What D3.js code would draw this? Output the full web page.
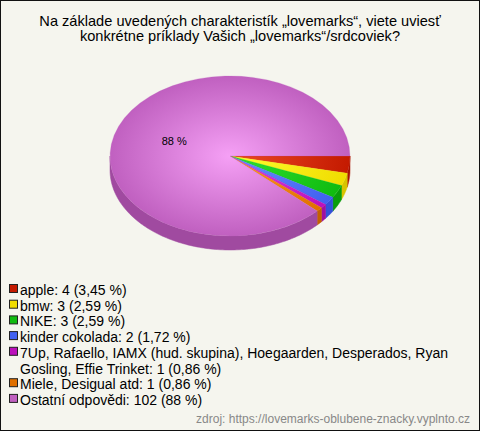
<!DOCTYPE html>
<html><head><meta charset="utf-8">
<script src="https://cdn.jsdelivr.net/npm/d3@7"></script>
<style>html,body{margin:0;padding:0;background:#fff}svg{display:block}</style>
</head><body>
<script>
const titleLines = ["Na základe uvedených charakteristík „lovemarks“, viete uviesť", "konkrétne príklady Vašich „lovemarks“/srdcoviek?"];
const categories = ["apple", "bmw", "NIKE", "kinder cokolada", "7Up, Rafaello, IAMX (hud. skupina), Hoegaarden, Desperados, Ryan Gosling, Effie Trinket", "Miele, Desigual atd", "Ostatní odpovědi"];
const counts = [4, 3, 3, 2, 1, 1, 102];
const percentLabels = ["3,45 %", "2,59 %", "2,59 %", "1,72 %", "0,86 %", "0,86 %", "88 %"];
const topLight = ["#ec4a26", "#ffff30", "#30e030", "#6e8cff", "#e040e0", "#ff9a20", "#f5a0f5"];
const topDark  = ["#c41a00", "#f0dc00", "#10bb10", "#4060f0", "#bb10bb", "#e07000", "#c060c0"];
const sideCol  = ["#a81200", "#d8c400", "#0a9e0a", "#3450d8", "#a010a0", "#c46000", "#a04aa0"];
const footer = "zdroj: https://lovemarks-oblubene-znacky.vyplnto.cz";

const W = 480, H = 431;
const cx = 230, cy = 156, rx = 120, ry = 80, depth = 14;
const svg = d3.select("body").append("svg").attr("width", W).attr("height", H)
  .style("font-family", "Arial, 'Liberation Sans', sans-serif");
svg.append("rect").attr("x", 0.5).attr("y", 0.5).attr("width", W - 1).attr("height", H - 1)
  .attr("fill", "#f5f5ee").attr("stroke", "#111");

svg.append("text").attr("x", W / 2).attr("text-anchor", "middle").attr("font-size", 14.6).attr("fill", "#000")
  .selectAll("tspan").data(titleLines).join("tspan")
  .attr("x", W / 2).attr("y", (d, i) => 26 + i * 15).text(d => d);

const defs = svg.append("defs");
counts.forEach((c, i) => {
  const g = defs.append("radialGradient").attr("id", "g" + i)
    .attr("gradientUnits", "userSpaceOnUse").attr("cx", 0).attr("cy", 0).attr("r", rx);
  g.append("stop").attr("offset", "0%").attr("stop-color", topLight[i]);
  g.append("stop").attr("offset", "100%").attr("stop-color", topDark[i]);
});

const pie = d3.pie().sort(null).startAngle(Math.PI / 2).endAngle(Math.PI / 2 + 2 * Math.PI);
const arcs = pie(counts);
const k = ry / rx;

// sides
const sideG = svg.append("g");
const px = a => cx + rx * Math.sin(a), py = a => cy - ry * Math.cos(a);
arcs.forEach((d, i) => {
  const a0 = Math.max(d.startAngle, Math.PI / 2), a1 = Math.min(d.endAngle, 3 * Math.PI / 2);
  if (a1 <= a0) return;
  const n = Math.max(2, Math.ceil((a1 - a0) / 0.02));
  const pts = d3.range(n + 1).map(j => a0 + (a1 - a0) * j / n);
  const top = pts.map(a => [px(a), py(a)]);
  const bot = pts.slice().reverse().map(a => [px(a), py(a) + depth]);
  sideG.append("path").attr("d", d3.line()(top.concat(bot)) + "Z").attr("fill", sideCol[i])
    .attr("stroke", sideCol[i]).attr("stroke-width", 0.5);
});

const topG = svg.append("g").attr("transform", `translate(${cx},${cy}) scale(1,${k})`);
const arc = d3.arc().innerRadius(0).outerRadius(rx);
topG.selectAll("path").data(arcs).join("path").attr("d", arc)
  .attr("fill", (d, i) => `url(#g${i})`).attr("stroke", (d, i) => topDark[i]).attr("stroke-width", 0.3);

// label for largest slice
const labArc = d3.arc().innerRadius(0).outerRadius(rx);
arcs.forEach((d, i) => {
  if (counts[i] / d3.sum(counts) < 0.1) return;
  const [lx, ly] = labArc.centroid(d);
  svg.append("text").attr("x", cx + lx).attr("y", cy + ly * k + 4).attr("text-anchor", "middle")
    .attr("font-size", 11).attr("fill", "#000").text(percentLabels[i]);
});

// legend
const lh = 15.7;
let line = 0;
const leg = svg.append("g");
categories.forEach((c, i) => {
  const yc = 290 + line * lh;
  leg.append("rect").attr("x", 9.5).attr("y", yc - 5.5).attr("width", 8).attr("height", 8)
    .attr("fill", topDark[i]).attr("stroke", "#222").attr("stroke-width", 1);
  const label = `${c}: ${counts[i]} (${percentLabels[i]})`;
  const t = leg.append("text").attr("font-size", 14).attr("fill", "#000");
  const words = label.split(" ");
  let cur = [], tsp = t.append("tspan").attr("x", 20).attr("y", yc + 5);
  words.forEach(w => {
    cur.push(w);
    tsp.text(cur.join(" "));
    if (tsp.node().getComputedTextLength() > 440 && cur.length > 1) {
      cur.pop(); tsp.text(cur.join(" "));
      cur = [w]; line++;
      tsp = t.append("tspan").attr("x", 20).attr("y", 290 + line * lh + 5).text(w);
    }
  });
  line++;
});

svg.append("text").attr("x", 470).attr("y", 423).attr("text-anchor", "end").attr("font-size", 12)
  .attr("fill", "#888").text(footer);
</script>
</body></html>
